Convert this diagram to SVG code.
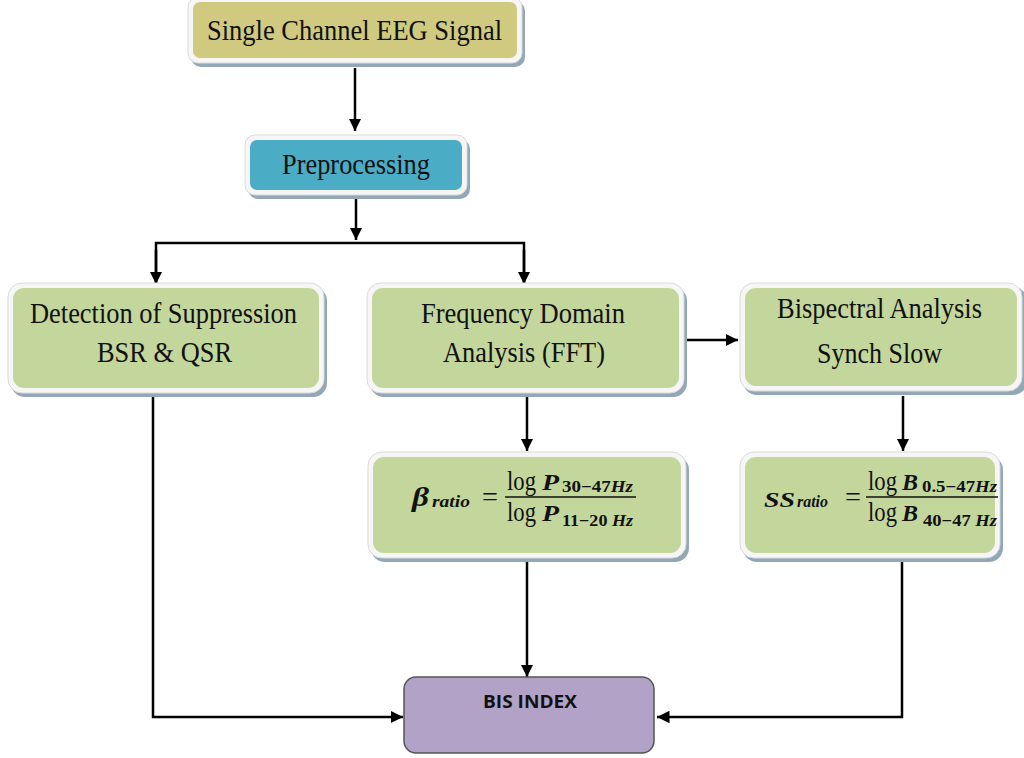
<svg xmlns="http://www.w3.org/2000/svg" width="1024" height="758" viewBox="0 0 1024 758">
  <defs>
    <marker id="arrow" viewBox="0 0 10 10" refX="10" refY="5" markerWidth="5" markerHeight="5" orient="auto" markerUnits="strokeWidth">
      <path d="M0,0 L10,5 L0,10 z" fill="#000"/>
    </marker>
  </defs>
  <style>
    .shadow { fill: #93A7B7; }
    .frame { fill: #F6F6F6; stroke: #DADADA; stroke-width: 1; }
    .yellow { fill: #CFCA80; }
    .blue { fill: #4BACC6; }
    .green { fill: #C3D69B; }
    .label { font-family: "Liberation Serif", "Times New Roman", serif; font-size: 29px; fill: #111; }
    .math { font-family: "Liberation Serif", "Times New Roman", serif; fill: #111; }
    .bi { font-weight: bold; font-style: italic; }
    .b { font-weight: bold; }
    .conn { stroke: #000; stroke-width: 2.5; fill: none; }
  </style>

  <rect width="1024" height="758" fill="#FFFFFF"/>

  <!-- connectors -->
  <g id="connectors">
    <path class="conn" d="M355,68 V131" marker-end="url(#arrow)"/>
    <path class="conn" d="M356,198 V240" marker-end="url(#arrow)"/>
    <path class="conn" d="M156,283 V243 H524 V283"/>
    <path class="conn" d="M156,250 V284" marker-end="url(#arrow)"/>
    <path class="conn" d="M524,250 V284" marker-end="url(#arrow)"/>
    <path class="conn" d="M683,340 H738" marker-end="url(#arrow)"/>
    <path class="conn" d="M527,396 V451" marker-end="url(#arrow)"/>
    <path class="conn" d="M903,396 V451" marker-end="url(#arrow)"/>
    <path class="conn" d="M153,396 V717 H403" marker-end="url(#arrow)"/>
    <path class="conn" d="M527,561 V677" marker-end="url(#arrow)"/>
    <path class="conn" d="M902,561 V717 H657" marker-end="url(#arrow)"/>
  </g>

  <!-- Single Channel EEG Signal -->
  <g id="node-eeg">
    <rect class="shadow" x="191" y="1" width="334" height="66" rx="10"/>
    <rect class="frame" x="188" y="-3" width="334" height="66" rx="10"/>
    <rect class="yellow" x="193" y="2" width="324" height="56" rx="7"/>
    <text class="label" x="207" y="40" textLength="295" lengthAdjust="spacingAndGlyphs">Single Channel EEG Signal</text>
  </g>

  <!-- Preprocessing -->
  <g id="node-pre">
    <rect class="shadow" x="248" y="139" width="222" height="60" rx="10"/>
    <rect class="frame" x="245" y="135" width="222" height="60" rx="10"/>
    <rect class="blue" x="250" y="140" width="212" height="50" rx="7"/>
    <text class="label" x="282" y="174" textLength="148" lengthAdjust="spacingAndGlyphs">Preprocessing</text>
  </g>

  <!-- Detection of Suppression -->
  <g id="node-suppression">
    <rect class="shadow" x="11" y="287" width="316" height="110" rx="14"/>
    <rect class="frame" x="8" y="283" width="316" height="110" rx="14"/>
    <rect class="green" x="13" y="288" width="306" height="100" rx="11"/>
    <text class="label" x="30" y="323" textLength="267" lengthAdjust="spacingAndGlyphs">Detection of Suppression</text>
    <text class="label" x="97" y="362" textLength="135" lengthAdjust="spacingAndGlyphs">BSR &amp; QSR</text>
  </g>

  <!-- Frequency Domain Analysis -->
  <g id="node-fft">
    <rect class="shadow" x="370" y="287" width="317" height="110" rx="14"/>
    <rect class="frame" x="367" y="283" width="317" height="110" rx="14"/>
    <rect class="green" x="372" y="288" width="307" height="100" rx="11"/>
    <text class="label" x="421" y="323" textLength="204" lengthAdjust="spacingAndGlyphs">Frequency Domain</text>
    <text class="label" x="443" y="362" textLength="162" lengthAdjust="spacingAndGlyphs">Analysis (FFT)</text>
  </g>

  <!-- Bispectral Analysis -->
  <g id="node-bispectral">
    <rect class="shadow" x="743" y="287" width="284" height="108" rx="14"/>
    <rect class="frame" x="740" y="283" width="282" height="108" rx="14"/>
    <rect class="green" x="745" y="288" width="272" height="98" rx="11"/>
    <text class="label" x="777" y="318" textLength="205" lengthAdjust="spacingAndGlyphs">Bispectral Analysis</text>
    <text class="label" x="817" y="363" textLength="125" lengthAdjust="spacingAndGlyphs">Synch Slow</text>
  </g>

  <!-- beta ratio formula -->
  <g id="node-beta">
    <rect class="shadow" x="371" y="456" width="318" height="106" rx="14"/>
    <rect class="frame" x="368" y="452" width="318" height="106" rx="14"/>
    <rect class="green" x="373" y="457" width="308" height="96" rx="11"/>
    <text class="math bi" x="412" y="506" font-size="28" textLength="17" lengthAdjust="spacingAndGlyphs">β</text>
    <text class="math bi" x="432" y="507" font-size="16" textLength="38" lengthAdjust="spacingAndGlyphs">ratio</text>
    <text class="math" x="482" y="506" font-size="28" textLength="16" lengthAdjust="spacingAndGlyphs">=</text>
    <text class="math" x="507" y="490" font-size="27" textLength="29" lengthAdjust="spacingAndGlyphs">log</text>
    <text class="math bi" x="542" y="490" font-size="24" textLength="17" lengthAdjust="spacingAndGlyphs">P</text>
    <text class="math b" x="562" y="492" font-size="16" textLength="71" lengthAdjust="spacingAndGlyphs">30−47<tspan font-style="italic">Hz</tspan></text>
    <line x1="505" y1="497" x2="636" y2="497" stroke="#111" stroke-width="1.5"/>
    <text class="math" x="507" y="521" font-size="27" textLength="29" lengthAdjust="spacingAndGlyphs">log</text>
    <text class="math bi" x="542" y="521" font-size="24" textLength="17" lengthAdjust="spacingAndGlyphs">P</text>
    <text class="math b" x="562" y="526" font-size="16" textLength="71" lengthAdjust="spacingAndGlyphs">11−20 <tspan font-style="italic">Hz</tspan></text>
  </g>

  <!-- SS ratio formula -->
  <g id="node-ss">
    <rect class="shadow" x="743" y="456" width="260" height="106" rx="14"/>
    <rect class="frame" x="740" y="452" width="260" height="106" rx="14"/>
    <rect class="green" x="745" y="457" width="250" height="96" rx="11"/>
    <text class="math bi" x="764" y="507" font-size="22" textLength="31" lengthAdjust="spacingAndGlyphs">SS</text>
    <text class="math bi" x="797" y="507" font-size="16" textLength="31" lengthAdjust="spacingAndGlyphs">ratio</text>
    <text class="math" x="845" y="506" font-size="28" textLength="16" lengthAdjust="spacingAndGlyphs">=</text>
    <text class="math" x="868" y="490" font-size="27" textLength="29" lengthAdjust="spacingAndGlyphs">log</text>
    <text class="math bi" x="902" y="490" font-size="24" textLength="16" lengthAdjust="spacingAndGlyphs">B</text>
    <text class="math b" x="922" y="492" font-size="16" textLength="75" lengthAdjust="spacingAndGlyphs">0.5−47<tspan font-style="italic">Hz</tspan></text>
    <line x1="866" y1="497" x2="998" y2="497" stroke="#111" stroke-width="1.5"/>
    <text class="math" x="868" y="521" font-size="27" textLength="29" lengthAdjust="spacingAndGlyphs">log</text>
    <text class="math bi" x="902" y="521" font-size="24" textLength="16" lengthAdjust="spacingAndGlyphs">B</text>
    <text class="math b" x="923" y="526" font-size="16" textLength="74" lengthAdjust="spacingAndGlyphs">40−47 <tspan font-style="italic">Hz</tspan></text>
  </g>

  <!-- BIS INDEX -->
  <g id="node-bis">
    <rect x="404" y="677" width="250" height="76" rx="12" fill="#B2A2C7" stroke="#555" stroke-width="1.5"/>
    <text x="483" y="708" font-family="Open Sans, Liberation Sans, sans-serif" font-size="18" font-weight="bold" fill="#111" textLength="94" lengthAdjust="spacingAndGlyphs">BIS INDEX</text>
  </g>
</svg>
